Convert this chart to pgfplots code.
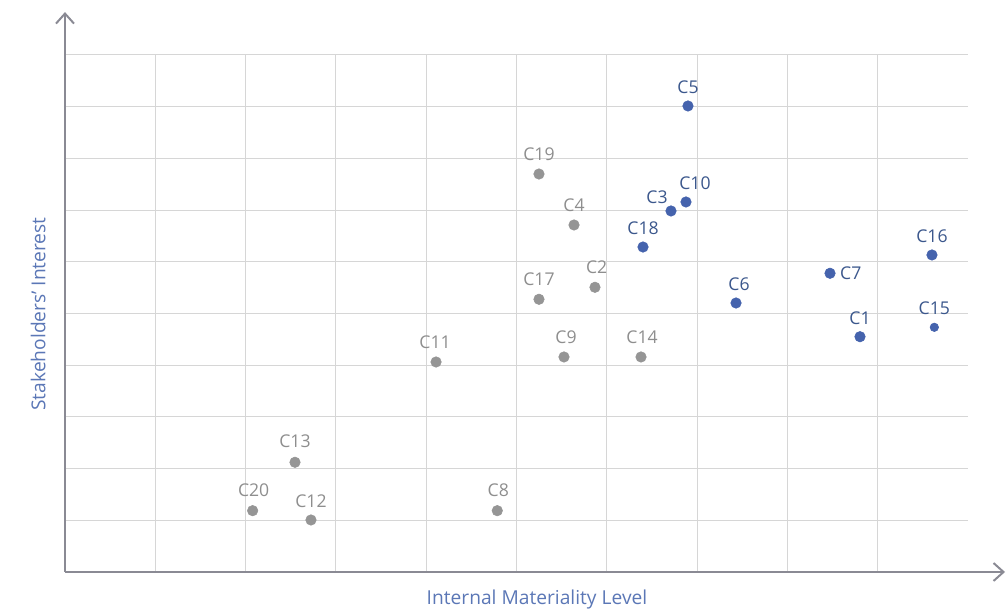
\documentclass[border=0pt]{standalone}
\usepackage{pgfplots}
\pgfplotsset{compat=1.18}
\usepackage{pgfplotstable}
\usepackage{fontspec}
\setmainfont{Open Sans}
\usetikzlibrary{arrows.meta}
\definecolor{bluedot}{HTML}{4563AD}
\definecolor{bluetxt}{HTML}{3B578C}
\definecolor{graydot}{HTML}{959595}
\definecolor{graytxt}{HTML}{8E8E8E}
\definecolor{axcol}{HTML}{8A8A94}
\definecolor{gridcol}{HTML}{D6D6D6}
\definecolor{labcol}{HTML}{5B77B6}

\pgfplotstableread{
x y lab dx dy
6.899 9.014 C5 0 9.5
6.877 7.157 C10 6.75 9.3
6.711 6.983 C3 -10.5 5.25
6.401 6.286 C18 0 9.5
7.431 5.203 C6 2.25 9.5
8.472 5.778 C7 15.6 -4.3
9.601 6.132 C16 0 9.5
8.804 4.551 C1 0 9.5
}\bluedata

\pgfplotstableread{
x y lab dx dy
9.627 4.733 C15 0 9.5
}\bluesmall

\pgfplotstableread{
x y lab dx dy
5.249 7.698 C19 0 10.3
5.637 6.712 C4 0 10.0
5.249 5.275 C17 0 10.3
5.869 5.507 C2 1.3 10.3
5.526 4.159 C9 1.5 10.3
6.379 4.159 C14 0.75 10.3
4.109 4.062 C11 -0.75 10.3
2.547 2.122 C13 0 11.0
2.078 1.186 C20 0.75 10.3
2.724 1.006 C12 0 9.5
4.787 1.186 C8 0.75 10.3
}\graydata

\begin{document}
\begin{tikzpicture}
\begin{axis}[
  scale only axis, width=677.25pt, height=387.75pt,
  xmin=0, xmax=10, ymin=0, ymax=10,
  clip=false,
  axis line style={draw=none},
  xtick={1,...,9}, ytick={1,...,10},
  xticklabels={}, yticklabels={},
  major tick length=0pt, tick style={draw=none},
  grid=major, major grid style={draw=gridcol, line width=0.75pt},
  nodes near coords,
  point meta=explicit symbolic,
  visualization depends on={\thisrow{dx}\as\dx},
  visualization depends on={\thisrow{dy}\as\dy},
]
\draw[axcol, line width=1.5pt, -{Straight Barb[length=7.5pt, width=13.5pt, line width=1.5pt]}] (axis cs:0,0) -- (axis cs:10.41,0);
\draw[axcol, line width=1.5pt, -{Straight Barb[length=7.5pt, width=13.5pt, line width=1.5pt]}] (axis cs:0,0) -- (axis cs:0,10.83);

\addplot[only marks, mark=*, mark size=3.95pt, color=graydot, mark options={draw=none, fill=graydot},
  every node near coord/.append style={anchor=base, xshift=\dx pt, yshift=\dy pt, text=graytxt, font=\fontsize{13.2}{14}\selectfont, inner sep=0pt}]
  table[x=x, y=y, meta=lab] {\graydata};

\addplot[only marks, mark=*, mark size=3.95pt, color=bluedot, mark options={draw=none, fill=bluedot},
  every node near coord/.append style={anchor=base, xshift=\dx pt, yshift=\dy pt, text=bluetxt, font=\fontsize{13.2}{14}\selectfont, inner sep=0pt}]
  table[x=x, y=y, meta=lab] {\bluedata};

\addplot[only marks, mark=*, mark size=3.2pt, color=bluedot, mark options={draw=none, fill=bluedot},
  every node near coord/.append style={anchor=base, xshift=\dx pt, yshift=\dy pt, text=bluetxt, font=\fontsize{13.2}{14}\selectfont, inner sep=0pt}]
  table[x=x, y=y, meta=lab] {\bluesmall};

\node[anchor=base, text=labcol, font=\fontsize{14.4}{15}\selectfont, inner sep=0pt] at (axis cs:5.227,-0.638) {Internal Materiality Level};
\node[anchor=base, rotate=90, text=labcol, font=\fontsize{14.4}{15}\selectfont, inner sep=0pt] at (axis cs:-0.216,4.99) {Stakeholders' Interest};

\coordinate (bl) at (axis cs:-0.7198,-0.7544);
\coordinate (tr) at (axis cs:10.443,11.0638);
\end{axis}
\pgfresetboundingbox
\path (bl) rectangle (tr);
\end{tikzpicture}
\end{document}
